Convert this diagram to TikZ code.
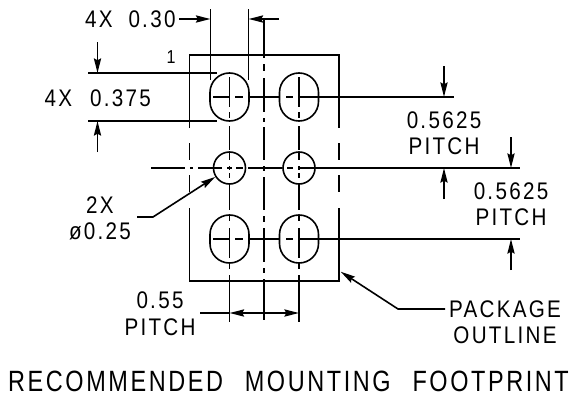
\documentclass[tikz,border=0pt]{standalone}
\usepackage{fontspec}
\setmainfont{Liberation Sans}
\newfontfamily\cadfont[LetterSpace=11]{Liberation Sans}
\newfontfamily\cadtitle[LetterSpace=11,WordSpace=2.4]{Liberation Sans}
\usepackage{tikz}
\usetikzlibrary{arrows.meta,positioning}

\newcommand{\cadtext}[1]{\scalebox{.86}[1]{#1}}

\begin{document}
\begin{tikzpicture}[x=0.75pt,y=-0.75pt,line width=1.2pt,>={Stealth[length=11pt,width=5.4pt,inset=1.5pt]}]
  \tikzstyle{pad}=[rectangle,draw=black,minimum width=29.25pt,minimum height=36pt,rounded corners=14.6pt,inner sep=0pt]
  \tikzstyle{via}=[circle,draw=black,minimum size=24pt,inner sep=0pt]
  \tikzstyle{dimtext}=[inner sep=0pt,font=\cadfont\fontsize{18}{20}\selectfont]
  \tikzstyle{titletext}=[inner sep=0pt,font=\cadtitle\fontsize{22}{24}\selectfont]

  \useasboundingbox (0,0) rectangle (575,396);

  \begin{scope}
    % Pads and vias
    \node [pad] (padA) at (229.5,97) {};
    \node [pad] (padB) at (299,97) {};
    \node [pad] (padC) at (229.5,239) {};
    \node [pad] (padD) at (299,239) {};
    \node [via] (viaA) at (229.5,168) {};
    \node [via] (viaB) at (299,168) {};
    % Package outline
    \draw (189.5,128) -- (189.5,55) -- (339,55) -- (339,128);
    \draw (189.5,208) -- (189.5,281) -- (339,281) -- (339,208);
    \foreach \x in {189.5,339} {
      \draw (\x,143) -- (\x,160);
      \draw (\x,175) -- (\x,192);
    }
  \end{scope}

  \begin{scope}
    % Centre lines
    \foreach \x in {229.5,299} {
      \foreach \a/\b in {77/107,112/118,126/150,153/160,166/170,173/178,183/210,215/221,228/258,263/269,275/322} {
        \draw (\x,\a) -- (\x,\b);
      }
    }
    \foreach \a/\b in {19/58,64/71,78/112,118/122,127/160,166/171,177/210,216/222,228/262,268/273,279/320} {
      \draw (264,\a) -- (264,\b);
    }
    \foreach \y in {97,239} {
      \foreach \a/\b in {213/230,235/243,250/279,286/293} {
        \draw (\a,\y) -- (\b,\y);
      }
    }
    \draw (298,97) -- (454,97);
    \draw (298,239) -- (520,239);
    \foreach \a/\b in {151/185,190/193,198/222,227/232,236/243,248/282,287/293,299/520} {
      \draw (\a,168) -- (\b,168);
    }
  \end{scope}

  \begin{scope}
    % Dimensions
    \draw (210.5,9) -- (210.5,80);
    \draw (248.5,9) -- (248.5,80);
    \draw [->] (179,19) -- (210.5,19);
    \draw [->] (279,19) -- (248.5,19);
    \draw (88,73) -- (217,73);
    \draw (88,121) -- (217,121);
    \draw [->] (97.5,42) -- (97.5,73);
    \draw [->] (97.5,152) -- (97.5,121);
    \draw [->] (444,66) -- (444,97);
    \draw [->] (444,199) -- (444,168);
    \draw [->] (511,137) -- (511,168);
    \draw [->] (511,270) -- (511,239);
    \draw (200,313) -- (229.5,313);
    \draw [->] (264,313) -- (229.5,313);
    \draw [->] (264,313) -- (299,313);
    % Leaders
    \draw [->] (137,217) -- (153,217) -- (viaA.212);
    \draw [->] (445,309) -- (398,309) -- (340.7,271.7);
  \end{scope}

  \node [dimtext] (countA) at (99,19) {\cadtext{4X}};
  \node [dimtext] (widthval) at (152,19) {\cadtext{0.30}};
  \node [dimtext] (countB) at (58.5,98) {\cadtext{4X}};
  \node [dimtext] (heightval) at (120.5,98) {\cadtext{0.375}};
  \node [dimtext] (pinone) at (171,57) {\fontsize{14}{14}\selectfont\cadtext{1}};
  \node [dimtext] (pitchA) at (444,120) {\cadtext{0.5625}};
  \node [dimtext] (pitchAlabel) [below = 6pt of pitchA] {\cadtext{PITCH}};
  \node [dimtext] (pitchB) at (511,191) {\cadtext{0.5625}};
  \node [dimtext] (pitchBlabel) [below = 6pt of pitchB] {\cadtext{PITCH}};
  \node [dimtext] (viacount) at (100,205) {\cadtext{2X}};
  \node [dimtext] (viasize) [below = 6pt of viacount] {\cadtext{ø0.25}};
  \node [dimtext] (pitchC) at (160,300.5) {\cadtext{0.55}};
  \node [dimtext] (pitchClabel) [below = 6pt of pitchC] {\cadtext{PITCH}};
  \node [dimtext] (outlineA) at (505,309) {\cadtext{PACKAGE}};
  \node [dimtext] (outlineB) [below = 6pt of outlineA] {\cadtext{OUTLINE}};
  \node [titletext] (title) at (288.5,381.5) {\scalebox{.8}[1]{RECOMMENDED MOUNTING FOOTPRINT}};
\end{tikzpicture}
\end{document}
